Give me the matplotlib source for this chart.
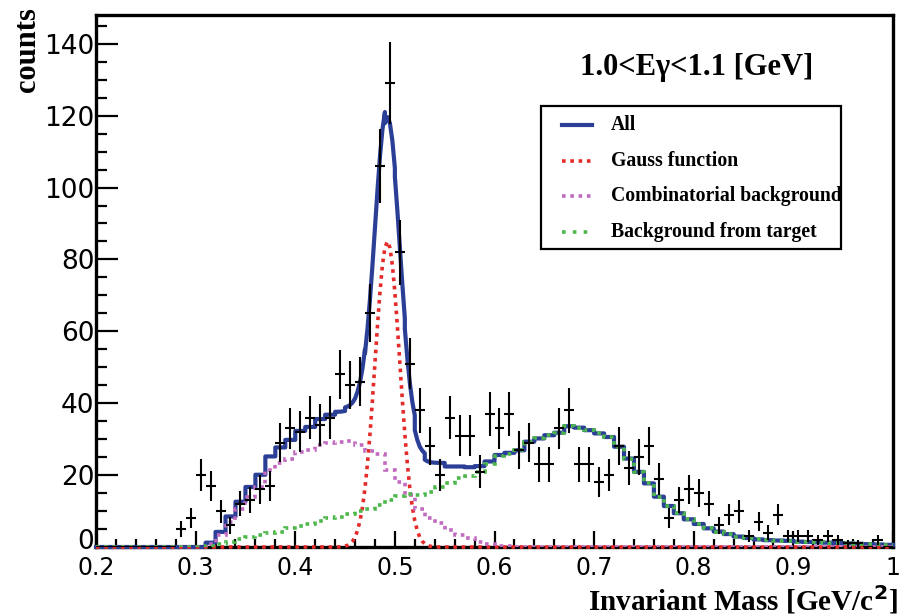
import numpy as np
import matplotlib
matplotlib.use("Agg")
import matplotlib.pyplot as plt
from matplotlib.lines import Line2D
from matplotlib.patches import Rectangle
from matplotlib.ticker import MultipleLocator, FixedLocator, FixedFormatter, FuncFormatter

# ---------------- data ----------------
bin_edges = np.round(np.arange(0.20, 1.0001, 0.01), 3)
bin_centers = np.round(bin_edges[:-1] + 0.005, 4)

data_counts = [0, 0, 0, 0, 0, 0, 0, 0,
               5, 8, 20, 17, 10, 6, 12, 13, 16, 17,
               29, 33, 32, 36, 34, 36, 48, 45, 46, 65,
               106, 129, 82, 51, 38, 28, 20, 36, 31, 31,
               21, 37, 33, 37, 27, 29, 23, 23, 33, 38,
               23, 23, 18, 20, 28, 22, 25, 28, 19, 8,
               13, 16, 15, 12, 6, 9, 10, 3, 7, 4,
               9, 3, 3, 3, 2, 3, 2, 1, 1, 0, 2, 0]
data_errors = [0, 0, 0, 0, 0, 0, 0, 0,
               2.2, 2.8, 4.5, 4.1, 3.2, 2.4, 3.5, 3.6, 4.0, 4.1,
               5.4, 5.7, 5.7, 6.0, 5.8, 6.0, 6.9, 6.7, 6.8, 8.1,
               10.3, 11.4, 9.1, 7.1, 6.2, 5.3, 4.5, 6.0, 5.6, 5.6,
               4.6, 6.1, 5.7, 6.1, 5.2, 5.4, 4.8, 4.8, 5.7, 6.2,
               4.8, 4.8, 4.2, 4.5, 5.3, 4.7, 5.0, 5.3, 4.4, 2.8,
               3.6, 4.0, 3.9, 3.5, 2.4, 3.0, 3.2, 1.7, 2.6, 2.0,
               3.0, 1.7, 1.7, 1.7, 1.4, 1.7, 1.4, 1.0, 1.0, 0, 1.4, 0]

combinatorial = [0, 0, 0, 0, 0, 0, 0, 0, 0, 0,
                 0, 0.8, 3.4, 7.0, 10.5, 14.0, 16.8, 21.4, 23.4, 24.6,
                 26.5, 27.0, 28.3, 28.8, 29.2, 29.5, 28.5, 26.8, 26.0, 21.5,
                 18.0, 14.6, 10.7, 8.0, 6.6, 4.7, 3.3, 2.4, 1.5, 0.8,
                 0.4, 0.2, 0, 0, 0, 0, 0, 0, 0, 0,
                 0, 0, 0, 0, 0, 0, 0, 0, 0, 0,
                 0, 0, 0, 0, 0, 0, 0, 0, 0, 0,
                 0, 0, 0, 0, 0, 0, 0, 0, 0, 0]
target_bg = [0, 0, 0, 0, 0, 0, 0, 0, 0, 0,
             0, 0.4, 0.8, 1.5, 2.1, 2.7, 3.3, 3.8, 4.3, 5.2,
             5.8, 6.4, 7.3, 8.0, 8.4, 9.1, 10.1, 10.7, 11.7, 13.1,
             14.2, 14.7, 14.5, 15.4, 16.8, 17.7, 19.1, 19.8, 21.0, 23.0,
             25.2, 26.0, 26.9, 29.3, 30.2, 31.1, 31.8, 33.6, 33.2, 32.5,
             31.6, 30.6, 27.9, 24.6, 20.9, 17.7, 14.0, 11.4, 9.4, 7.7,
             6.4, 5.2, 4.3, 3.6, 2.9, 2.5, 2.1, 1.9, 1.8, 1.7,
             1.5, 1.4, 1.3, 1.2, 1.1, 1.0, 0.9, 0.8, 0.7, 0.6]

gauss_x = [0.2, 0.44, 0.4425, 0.445, 0.4475, 0.45, 0.4525, 0.455, 0.4575, 0.46,
           0.4625, 0.465, 0.4675, 0.47, 0.4725, 0.475, 0.4775, 0.48, 0.4825,
           0.485, 0.4875, 0.49, 0.4925, 0.495, 0.4975, 0.50, 0.5025, 0.505,
           0.5075, 0.51, 0.5125, 0.515, 0.5175, 0.52, 0.5225, 0.525, 0.5275,
           0.53, 0.5325, 0.535, 0.5375, 0.54, 0.5425, 0.545, 1.0]
gauss_y = [0, 0, 0.02, 0.05, 0.12, 0.24, 0.47, 0.88, 1.6, 2.7,
           4.6, 7.3, 11.1, 16.4, 23.2, 31.4, 40.9, 51.2, 61.4,
           70.8, 78.4, 83.3, 85.0, 83.3, 78.4, 70.8, 61.4, 51.2,
           40.9, 31.4, 23.2, 16.4, 11.1, 7.3, 4.6, 2.7, 1.6,
           0.88, 0.47, 0.24, 0.12, 0.05, 0.02, 0, 0]

x_tick_labels = ["0.2", "0.3", "0.4", "0.5", "0.6", "0.7", "0.8", "0.9", "1"]
legend_labels = ["All", "Gauss function", "Combinatorial background",
                 "Background from target"]
title_text = "1.0<E\u03b3<1.1 [GeV]"

# ---------------- styling ----------------
c_all = "#2b3f97"
c_gauss = "#e52a2a"
c_comb = "#c06ac0"
c_targ = "#4cb84c"

W, H = 911, 616
fig = plt.figure(figsize=(W / 100, H / 100), dpi=100)
ax = fig.add_axes([96 / W, 1 - 547 / H, (893 - 96) / W, (547 - 15) / H])

# total ("All") = backgrounds + Gauss, on a fine grid
gx_arr = np.array(gauss_x)
gy_arr = np.array(gauss_y)
all_x, all_y = [], []
for i in range(len(bin_edges) - 1):
    lo, hi = bin_edges[i], bin_edges[i + 1]
    inner = gx_arr[(gx_arr > lo + 1e-9) & (gx_arr < hi - 1e-9)]
    pts = np.concatenate([[lo], inner, [hi]])
    all_x.extend(pts)
    all_y.extend(combinatorial[i] + target_bg[i] + np.interp(pts, gx_arr, gy_arr))

ax.plot(all_x, all_y, color=c_all, lw=3.0, zorder=3, clip_on=False,
        solid_joinstyle="round")
ax.plot(gauss_x, gauss_y, color=c_gauss, lw=2.6, ls=(0, (1, 1.3)),
        zorder=4, clip_on=False, dash_capstyle="butt")
ax.stairs(combinatorial, bin_edges, color=c_comb, lw=2.6, ls=(0, (1, 1.3)),
          zorder=4, baseline=None)
ax.stairs(target_bg, bin_edges, color=c_targ, lw=2.6, ls=(0, (1, 1.3)),
          zorder=5, baseline=None)

ax.errorbar(bin_centers, data_counts, yerr=data_errors, xerr=0.005,
            fmt="none", ecolor="black", elinewidth=1.5, capsize=0, zorder=6)

ax.set_xlim(0.2, 1.0)
ax.set_ylim(0, 148)

ax.xaxis.set_major_locator(FixedLocator([0.2, 0.3, 0.4, 0.5, 0.6, 0.7, 0.8, 0.9, 1.0]))
ax.xaxis.set_major_formatter(FixedFormatter(x_tick_labels))
ax.xaxis.set_minor_locator(MultipleLocator(0.02))
ax.yaxis.set_major_locator(MultipleLocator(20))
ax.yaxis.set_major_formatter(FuncFormatter(lambda v, p: "" if abs(v) < 1e-9 else f"{v:.0f}"))
ax.yaxis.set_minor_locator(MultipleLocator(5))

ax.tick_params(axis="both", which="both", direction="in", top=False, right=False,
               width=1.6, color="black")
ax.tick_params(axis="x", which="major", length=11.5, pad=6.5, labelsize=17)
ax.tick_params(axis="x", which="minor", length=5.8)
ax.tick_params(axis="y", which="major", length=15.5, pad=1, labelsize=19)
ax.tick_params(axis="y", which="minor", length=8)
for lab in ax.get_xticklabels() + ax.get_yticklabels():
    lab.set_family("DejaVu Sans")

# the "0" of the y axis, lifted a little so it does not collide with "0.2"
ax.annotate("0", xy=(0, 0), xycoords=ax.get_yaxis_transform(),
            xytext=(-1.2, 5.5), textcoords="offset points", ha="right",
            va="center_baseline", fontsize=19, family="DejaVu Sans")

for s in ax.spines.values():
    s.set_linewidth(2.4)
    s.set_zorder(2.5)

serif = "Liberation Serif"
fig.text(27 / W, 1 - 7 / H, "counts", rotation=90, ha="center", va="top",
         family=serif, weight="bold", fontsize=22)
fig.text(588 / W, 1 - 600 / H, "Invariant Mass [GeV/c$^{\\mathbf{2}}$]",
         ha="left", va="center", family=serif, weight="bold", fontsize=21)
fig.text(697 / W, 1 - 67 / H, title_text, ha="center", va="center",
         family=serif, weight="bold", fontsize=22)

# legend box
fig.patches.append(Rectangle((541 / W, 1 - 249 / H), 300 / W, 143 / H,
                             transform=fig.transFigure, fill=True,
                             facecolor="white", edgecolor="black", lw=1.6,
                             zorder=10))
leg_y = [125, 161, 196, 232]
leg_styles = [(c_all, "-", 3.0), (c_gauss, (0, (1, 1.3)), 2.6),
              (c_comb, (0, (1, 1.3)), 2.6), (c_targ, (0, (1, 2.0)), 2.6)]
for yy, lab, (col, ls, lw) in zip(leg_y, legend_labels, leg_styles):
    fig.lines.append(Line2D([562 / W, 592 / W], [1 - yy / H, 1 - yy / H],
                            transform=fig.transFigure, color=col, ls=ls, lw=lw,
                            zorder=11))
    fig.text(611 / W, 1 - yy / H, lab, ha="left", va="center", family=serif,
             weight="bold", fontsize=14.2, zorder=12)

fig.savefig("out.png", dpi=100)
